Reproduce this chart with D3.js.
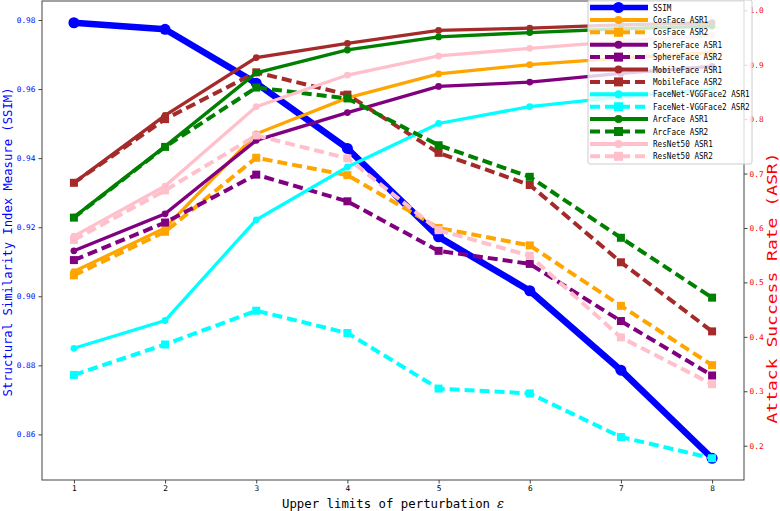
<!DOCTYPE html>
<html lang="en">
<head>
  <meta charset="UTF-8">
  <title>SSIM vs ASR</title>
  <style>
    body { margin: 0; background: #fff; }
    svg { display: block; font-family: 'DejaVu Sans Mono', monospace; }
    .tick line { stroke: #444; }
    .domain { stroke: none; }
  </style>
</head>
<body>
  <svg id="chart" width="780" height="511"></svg>

  <script src="https://d3js.org/d3.v7.min.js"></script>
  <script>
    // x values (upper limit of perturbation)
    const eps = [1, 2, 3, 4, 5, 6, 7, 8];

    // left axis: SSIM
    const ssim = [0.9792, 0.9773, 0.9617, 0.9428, 0.9172, 0.9016, 0.8786, 0.8531];

    // right axis: attack success rates
    const cosface1  = [0.520, 0.600, 0.773, 0.839, 0.883, 0.900, 0.912, 0.922];
    const cosface2  = [0.513, 0.593, 0.729, 0.697, 0.600, 0.568, 0.457, 0.348];
    const sphere1   = [0.558, 0.626, 0.761, 0.812, 0.860, 0.868, 0.884, 0.897];
    const sphere2   = [0.541, 0.610, 0.698, 0.649, 0.558, 0.534, 0.429, 0.329];
    const mobile1   = [0.683, 0.807, 0.913, 0.939, 0.963, 0.967, 0.973, 0.977];
    const mobile2   = [0.683, 0.800, 0.886, 0.845, 0.738, 0.679, 0.537, 0.410];
    const facenet1  = [0.379, 0.430, 0.615, 0.712, 0.792, 0.823, 0.841, 0.855];
    const facenet2  = [0.330, 0.386, 0.448, 0.407, 0.305, 0.296, 0.216, 0.177];
    const arc1      = [0.620, 0.750, 0.885, 0.927, 0.951, 0.959, 0.966, 0.971];
    const arc2      = [0.619, 0.749, 0.858, 0.838, 0.752, 0.694, 0.582, 0.472];
    const res1      = [0.585, 0.677, 0.823, 0.881, 0.916, 0.930, 0.943, 0.954];
    const res2      = [0.578, 0.669, 0.770, 0.728, 0.596, 0.549, 0.399, 0.313];

    const leftTicks  = [0.86, 0.88, 0.90, 0.92, 0.94, 0.96, 0.98];
    const rightTicks = [0.2, 0.3, 0.4, 0.5, 0.6, 0.7, 0.8, 0.9, 1.0];

    const asrSeries = [
      { name: 'CosFace ASR1', values: cosface1, color: '#ffa500', dashed: false },
      { name: 'CosFace ASR2', values: cosface2, color: '#ffa500', dashed: true },
      { name: 'SphereFace ASR1', values: sphere1, color: '#800080', dashed: false },
      { name: 'SphereFace ASR2', values: sphere2, color: '#800080', dashed: true },
      { name: 'MobileFace ASR1', values: mobile1, color: '#a52a2a', dashed: false },
      { name: 'MobileFace ASR2', values: mobile2, color: '#a52a2a', dashed: true },
      { name: 'FaceNet-VGGFace2 ASR1', values: facenet1, color: '#00ffff', dashed: false },
      { name: 'FaceNet-VGGFace2 ASR2', values: facenet2, color: '#00ffff', dashed: true },
      { name: 'ArcFace ASR1', values: arc1, color: '#008000', dashed: false },
      { name: 'ArcFace ASR2', values: arc2, color: '#008000', dashed: true },
      { name: 'ResNet50 ASR1', values: res1, color: '#ffc0cb', dashed: false },
      { name: 'ResNet50 ASR2', values: res2, color: '#ffc0cb', dashed: true }
    ];

    const plot = { left: 42, right: 744, top: 1, bottom: 480 };
    const svg = d3.select('#chart');

    const x = d3.scaleLinear().domain([0.65, 8.35]).range([plot.left, plot.right]);
    const yL = d3.scaleLinear().domain([0.8468, 0.9855]).range([plot.bottom, plot.top]);
    const yR = d3.scaleLinear().domain([0.137, 1.017]).range([plot.bottom, plot.top]);

    // axes
    const xAxis = svg.append('g')
      .attr('transform', `translate(0,${plot.bottom})`)
      .call(d3.axisBottom(x).tickValues(eps).tickFormat(d3.format('d')).tickSize(3.5).tickPadding(2));
    xAxis.selectAll('text').attr('font-size', 7.8).attr('fill', '#000').attr('font-family', 'DejaVu Sans Mono');

    const lAxis = svg.append('g')
      .attr('transform', `translate(${plot.left},0)`)
      .call(d3.axisLeft(yL).tickValues(leftTicks).tickFormat(d3.format('.2f')).tickSize(3.5).tickPadding(3));
    lAxis.selectAll('text').attr('font-size', 7.8).attr('fill', '#0000ff').attr('font-family', 'DejaVu Sans Mono');

    const rAxis = svg.append('g')
      .attr('transform', `translate(${plot.right},0)`)
      .call(d3.axisRight(yR).tickValues(rightTicks).tickFormat(d3.format('.1f')).tickSize(3.5).tickPadding(2));
    rAxis.selectAll('text').attr('font-size', 7.8).attr('fill', '#ff0000').attr('font-family', 'DejaVu Sans Mono');

    // frame
    svg.append('rect')
      .attr('x', plot.left).attr('y', plot.top)
      .attr('width', plot.right - plot.left).attr('height', plot.bottom - plot.top)
      .attr('fill', 'none').attr('stroke', '#444').attr('stroke-width', 1);

    // axis titles
    function label(txt, len, size, color) {
      return svg.append('text')
        .attr('text-anchor', 'middle')
        .attr('font-size', size)
        .attr('fill', color)
        .attr('textLength', len)
        .attr('lengthAdjust', 'spacingAndGlyphs')
        .text(txt);
    }
    label('Structural Similarity Index Measure (SSIM)', 309, 12.5, '#0000ff')
      .attr('transform', 'translate(12,242) rotate(-90)');
    label('Attack Success Rate (ASR)', 271, 13.5, '#ff0000')
      .attr('transform', 'translate(777,288) rotate(-90)');
    svg.append('text')
      .attr('x', 282).attr('y', 508)
      .attr('font-size', 12.5)
      .attr('textLength', 208)
      .attr('lengthAdjust', 'spacingAndGlyphs')
      .text('Upper limits of perturbation');
    svg.append('text')
      .attr('x', 497).attr('y', 508)
      .attr('font-size', 13)
      .attr('font-style', 'italic')
      .attr('font-family', 'DejaVu Serif')
      .text('ε');

    // series
    const lineL = d3.line().x((d, i) => x(eps[i])).y(d => yL(d));
    const lineR = d3.line().x((d, i) => x(eps[i])).y(d => yR(d));

    svg.append('path').datum(ssim)
      .attr('d', lineL).attr('fill', 'none')
      .attr('stroke', '#0000ff').attr('stroke-width', 6.5).attr('stroke-linejoin', 'round');
    svg.append('g').selectAll('circle').data(ssim).join('circle')
      .attr('cx', (d, i) => x(eps[i])).attr('cy', d => yL(d)).attr('r', 5.5)
      .attr('fill', '#0000ff');

    asrSeries.forEach(s => {
      svg.append('path').datum(s.values)
        .attr('d', lineR).attr('fill', 'none')
        .attr('stroke', s.color)
        .attr('stroke-width', s.dashed ? 4 : 3.3)
        .attr('stroke-dasharray', s.dashed ? '10,5' : null);
      const g = svg.append('g');
      if (s.dashed) {
        g.selectAll('rect').data(s.values).join('rect')
          .attr('x', (d, i) => x(eps[i]) - 4).attr('y', d => yR(d) - 4)
          .attr('width', 8).attr('height', 8).attr('fill', s.color);
      } else {
        g.selectAll('circle').data(s.values).join('circle')
          .attr('cx', (d, i) => x(eps[i])).attr('cy', d => yR(d)).attr('r', 3.4)
          .attr('fill', s.color);
      }
    });

    // legend
    const legendItems = [{ name: 'SSIM', color: '#0000ff', dashed: false, ssim: true }].concat(asrSeries);
    const leg = svg.append('g');
    leg.append('rect')
      .attr('x', 588).attr('y', 0).attr('width', 164).attr('height', 164).attr('rx', 2)
      .attr('fill', '#fff').attr('fill-opacity', 0.8).attr('stroke', '#ccc').attr('stroke-width', 1);
    legendItems.forEach((s, i) => {
      const yy = 7.5 + i * 12.4;
      leg.append('line')
        .attr('x1', 590).attr('x2', 648).attr('y1', yy).attr('y2', yy)
        .attr('stroke', s.color)
        .attr('stroke-width', s.ssim ? 5.5 : 4)
        .attr('stroke-dasharray', s.dashed ? '10,5' : null);
      if (s.dashed) {
        leg.append('rect').attr('x', 618.5 - 4.5).attr('y', yy - 4.5)
          .attr('width', 9).attr('height', 9).attr('fill', s.color);
      } else {
        leg.append('circle').attr('cx', 618.5).attr('cy', yy).attr('r', s.ssim ? 5.5 : 4)
          .attr('fill', s.color);
      }
      leg.append('text')
        .attr('x', 653).attr('y', yy + 3)
        .attr('font-size', 8.6)
        .attr('textLength', s.name.length * 4.6)
        .attr('lengthAdjust', 'spacingAndGlyphs')
        .text(s.name);
    });
  </script>
</body>
</html>
